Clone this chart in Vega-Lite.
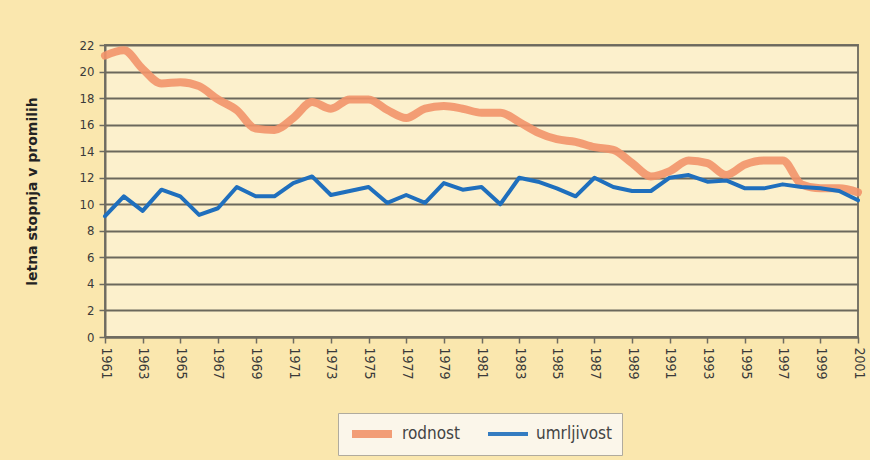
{
  "$schema": "https://vega.github.io/schema/vega-lite/v6.json",
  "autosize": {"type": "none"},
  "width": 753,
  "height": 292,
  "padding": {"left": 105, "top": 45, "right": 12, "bottom": 123},
  "background": "#fae7ae",
  "config": {
    "view": {"fill": "#fcf0cc", "stroke": "#7a7668", "strokeWidth": 2},
    "font": "DejaVu Sans Condensed, Liberation Sans, sans-serif",
    "axis": {"labelFont": "DejaVu Sans Condensed, Liberation Sans, sans-serif", "titleFont": "DejaVu Sans, Liberation Sans, sans-serif", "labelColor": "#3a3a3a", "titleColor": "#222"},
    "legend": {"labelFont": "DejaVu Sans Condensed, Liberation Sans, sans-serif"}
  },
  "data": {
    "values": [
      {"year": 1961, "rodnost": 21.2, "umrljivost": 9.1},
      {"year": 1962, "rodnost": 21.6, "umrljivost": 10.6},
      {"year": 1963, "rodnost": 20.2, "umrljivost": 9.5},
      {"year": 1964, "rodnost": 19.1, "umrljivost": 11.1},
      {"year": 1965, "rodnost": 19.2, "umrljivost": 10.6},
      {"year": 1966, "rodnost": 18.9, "umrljivost": 9.2},
      {"year": 1967, "rodnost": 17.9, "umrljivost": 9.7},
      {"year": 1968, "rodnost": 17.1, "umrljivost": 11.3},
      {"year": 1969, "rodnost": 15.7, "umrljivost": 10.6},
      {"year": 1970, "rodnost": 15.6, "umrljivost": 10.6},
      {"year": 1971, "rodnost": 16.5, "umrljivost": 11.6},
      {"year": 1972, "rodnost": 17.7, "umrljivost": 12.1},
      {"year": 1973, "rodnost": 17.2, "umrljivost": 10.7},
      {"year": 1974, "rodnost": 17.9, "umrljivost": 11.0},
      {"year": 1975, "rodnost": 17.9, "umrljivost": 11.3},
      {"year": 1976, "rodnost": 17.1, "umrljivost": 10.1},
      {"year": 1977, "rodnost": 16.5, "umrljivost": 10.7},
      {"year": 1978, "rodnost": 17.2, "umrljivost": 10.1},
      {"year": 1979, "rodnost": 17.4, "umrljivost": 11.6},
      {"year": 1980, "rodnost": 17.2, "umrljivost": 11.1},
      {"year": 1981, "rodnost": 16.9, "umrljivost": 11.3},
      {"year": 1982, "rodnost": 16.9, "umrljivost": 10.0},
      {"year": 1983, "rodnost": 16.2, "umrljivost": 12.0},
      {"year": 1984, "rodnost": 15.4, "umrljivost": 11.7},
      {"year": 1985, "rodnost": 14.9, "umrljivost": 11.2},
      {"year": 1986, "rodnost": 14.7, "umrljivost": 10.6},
      {"year": 1987, "rodnost": 14.3, "umrljivost": 12.0},
      {"year": 1988, "rodnost": 14.1, "umrljivost": 11.3},
      {"year": 1989, "rodnost": 13.1, "umrljivost": 11.0},
      {"year": 1990, "rodnost": 12.1, "umrljivost": 11.0},
      {"year": 1991, "rodnost": 12.5, "umrljivost": 12.0},
      {"year": 1992, "rodnost": 13.3, "umrljivost": 12.2},
      {"year": 1993, "rodnost": 13.1, "umrljivost": 11.7},
      {"year": 1994, "rodnost": 12.2, "umrljivost": 11.8},
      {"year": 1995, "rodnost": 13.0, "umrljivost": 11.2},
      {"year": 1996, "rodnost": 13.3, "umrljivost": 11.2},
      {"year": 1997, "rodnost": 13.3, "umrljivost": 11.5},
      {"year": 1998, "rodnost": 11.5, "umrljivost": 11.3},
      {"year": 1999, "rodnost": 11.2, "umrljivost": 11.2},
      {"year": 2000, "rodnost": 11.2, "umrljivost": 11.0},
      {"year": 2001, "rodnost": 10.9, "umrljivost": 10.3}
    ]
  },
  "transform": [{"fold": ["rodnost", "umrljivost"], "as": ["serija", "vrednost"]}],
  "encoding": {
    "x": {
      "field": "year", "type": "quantitative",
      "scale": {"domain": [1961, 2001], "nice": false, "zero": false},
      "axis": {
        "title": null, "values": [1961,1963,1965,1967,1969,1971,1973,1975,1977,1979,1981,1983,1985,1987,1989,1991,1993,1995,1997,1999,2001],
        "format": "d", "labelAngle": 90, "labelFontSize": 14, "labelPadding": 4,
        "grid": false, "domainColor": "#6e6b60", "domainWidth": 2, "tickColor": "#6e6b60", "tickSize": 6, "tickWidth": 1.5, "labelFlush": false, "labelOverlap": false
      }
    },
    "y": {
      "field": "vrednost", "type": "quantitative",
      "scale": {"domain": [0, 22], "nice": false},
      "axis": {
        "title": "letna stopnja v promilih", "titleFontSize": 14, "titleFontWeight": "bold", "titlePadding": 40,
        "values": [0,2,4,6,8,10,12,14,16,18,20,22], "labelFontSize": 13, "labelPadding": 5,
        "gridColor": "#6b685c", "gridWidth": 1.8, "gridOpacity": 1,
        "domainColor": "#6e6b60", "domainWidth": 2, "tickColor": "#6e6b60", "tickSize": 6, "tickWidth": 1.5
      }
    },
    "color": {
      "field": "serija", "type": "nominal",
      "scale": {"domain": ["rodnost", "umrljivost"], "range": ["#f2946a", "#1f6fbd"]},
      "legend": {
        "title": null, "orient": "none", "direction": "horizontal", "legendX": 233, "legendY": 368,
        "symbolType": "stroke", "symbolSize": 1600, "symbolStrokeWidth": 6, "clipHeight": 22,
        "labelFontSize": 17, "labelColor": "#444", "labelOffset": 6,
        "fillColor": "#fbf6ea", "strokeColor": "#b0ab9e", "padding": 10, "columnPadding": 26
      }
    },
    "strokeWidth": {
      "field": "serija", "type": "nominal",
      "scale": {"domain": ["rodnost", "umrljivost"], "range": [8, 4]},
      "legend": null
    }
  },
  "layer": [
    {
      "transform": [{"filter": "datum.serija === 'rodnost'"}],
      "mark": {"type": "line", "interpolate": "monotone", "strokeCap": "round", "strokeJoin": "round", "opacity": 0.9}
    },
    {
      "transform": [{"filter": "datum.serija === 'umrljivost'"}],
      "mark": {"type": "line", "interpolate": "linear", "strokeCap": "round", "strokeJoin": "round"}
    }
  ]
}
